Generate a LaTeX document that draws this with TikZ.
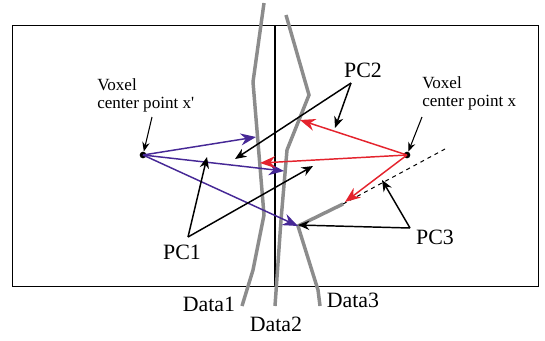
\documentclass[tikz,border=0pt]{standalone}
\usepackage{fontspec}
\setmainfont{Liberation Serif}
\usetikzlibrary{arrows.meta}
\definecolor{datagray}{RGB}{140,140,140}
\definecolor{pcpurple}{RGB}{70,40,150}
\definecolor{pcred}{RGB}{228,35,45}

\begin{document}
\begin{tikzpicture}[
  x=0.75pt, y=-0.75pt,
  data/.style={draw=datagray, line width=2.6pt},
  vec/.style={line width=1.1pt, -{Stealth[length=11.5pt, width=9pt]}},
  ptr/.style={line width=1.1pt, -{Stealth[length=8.5pt, width=7pt]}},
  thinptr/.style={line width=0.8pt, -{Stealth[length=7pt, width=5.5pt]}},
  lbl/.style={font=\fontsize{16.4}{18}\selectfont, inner sep=0pt},
  vlbl/.style={font=\fontsize{12.8}{13.5}\selectfont, align=left, inner sep=0pt, anchor=north west},
  dot/.style={circle, fill, inner sep=0pt, minimum size=5pt}
]
\useasboundingbox (0,0) rectangle (545,340);

\draw[line width=0.75pt] (12,25) rectangle (538,286);
\draw[line width=0.9pt] (275,25) -- (275,286);

\draw[data] (264,3) -- (253,82) -- (264,215) -- (253,270) -- (242,306);
\draw[data] (286,15) -- (309,95) -- (287,150) -- (281,220) -- (275,306);
\draw[data] (343,204) -- (298,226) -- (318,290) -- (320,306);

\coordinate (d3end) at (343,204);
\coordinate (tangent) at (445,149);
\draw[dashed, line width=0.75pt] (d3end) -- (tangent);

\node[dot] (xp) at (143,155) {};
\node[dot] (xv) at (407,155) {};

\coordinate (pA) at (256,137);
\coordinate (pB) at (284,171);
\coordinate (pC) at (298,226);
\coordinate (rA) at (300,120);
\coordinate (rB) at (260,163);
\coordinate (rC) at (345,202);

\draw[vec, pcpurple] (xp.center) -- (pA);
\draw[vec, pcpurple] (xp.center) -- (pB);
\draw[vec, pcpurple] (xp.center) -- (pC);
\draw[vec, pcred] (xv.center) -- (rA);
\draw[vec, pcred] (xv.center) -- (rB);
\draw[vec, pcred] (xv.center) -- (rC);

\node[vlbl] (labxp) at (97,78) {Voxel\\center point x\textquotesingle};
\node[vlbl] (labxv) at (422,76) {Voxel\\center point x};
\coordinate (labxpend) at (152,117);
\coordinate (labxvend) at (422,117);
\draw[thinptr] (labxpend) -- (xp);
\draw[thinptr] (labxvend) -- (xv);

\node[lbl] (pc1) at (182,252) {PC1};
\node[lbl] (pc2) at (363,70) {PC2};
\node[lbl] (pc3) at (435,237) {PC3};
\coordinate (pc1top) at (188,237);
\coordinate (pc2bot) at (351,83);
\coordinate (pc3left) at (410,228);
\coordinate (pc1tipA) at (207,157);
\coordinate (pc1tipB) at (313,166);
\coordinate (pc2tipA) at (335,128);
\coordinate (pc2tipB) at (235,159);
\coordinate (pc3tipA) at (382,180);
\coordinate (pc3tipB) at (298,225);

\draw[ptr] (pc1top) -- (pc1tipA);
\draw[ptr] (pc1top) -- (pc1tipB);
\draw[ptr] (pc2bot) -- (pc2tipA);
\draw[ptr] (pc2bot) -- (pc2tipB);
\draw[ptr] (pc3left) -- (pc3tipA);
\draw[ptr] (pc3left) -- (pc3tipB);

\node[lbl] (data1) at (209,304) {Data1};
\node[lbl] (data2) at (276,324) {Data2};
\node[lbl] (data3) at (353,300) {Data3};
\end{tikzpicture}
\end{document}
